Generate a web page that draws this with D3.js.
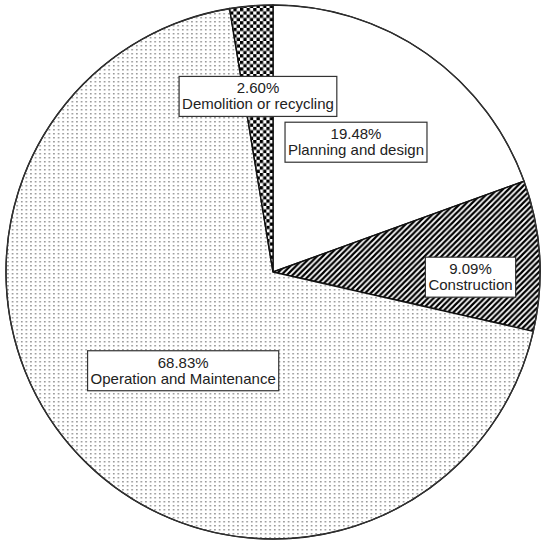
<!DOCTYPE html>
<html>
<head>
<meta charset="utf-8">
<script src="https://cdn.jsdelivr.net/npm/d3@7/dist/d3.min.js"></script>
<style>
  html, body { margin: 0; padding: 0; background: #fff; }
  svg { display: block; }
</style>
</head>
<body>
<script>
// ---- data ----
const categories = ["Planning and design", "Construction", "Operation and Maintenance", "Demolition or recycling"];
const values = [19.48, 9.09, 68.83, 2.60];
const percentLabels = ["19.48%", "9.09%", "68.83%", "2.60%"];
const fills = ["plain", "stripes", "dots", "checker"];

// ---- layout (label anchors: polar angle in degrees from 12 o'clock, radius fraction) ----
const labelAngles = [32.6, 91.5, 222.3, 355.1];
const labelRadii = [0.577, 0.74, 0.5, 0.66];

const W = 546, H = 550;
const cx = 273, cy = 272, R = 267;

const svg = d3.select("body").append("svg").attr("width", W).attr("height", H);
const defs = svg.append("defs");

// dots pattern
const pd = defs.append("pattern").attr("id", "dots").attr("patternUnits", "userSpaceOnUse")
  .attr("width", 4.6).attr("height", 4);
pd.append("rect").attr("width", 4.6).attr("height", 4).attr("fill", "#fff");
pd.append("rect").attr("x", 1).attr("y", 1).attr("width", 1.5).attr("height", 1.5).attr("fill", "#8e8e8e");

// stripes pattern ("/" diagonals)
const sp = 5.66;
const ps = defs.append("pattern").attr("id", "stripes").attr("patternUnits", "userSpaceOnUse")
  .attr("width", sp).attr("height", sp);
ps.append("rect").attr("width", sp).attr("height", sp).attr("fill", "#fff");
ps.append("path")
  .attr("d", `M0,${sp} L${sp},0 M${-sp/2},${sp/2} L${sp/2},${-sp/2} M${sp/2},${sp*1.5} L${sp*1.5},${sp/2}`)
  .attr("stroke", "#000").attr("stroke-width", 2.2);

// checker pattern
const pc = defs.append("pattern").attr("id", "checker").attr("patternUnits", "userSpaceOnUse")
  .attr("width", 6.6).attr("height", 6.6);
pc.append("rect").attr("width", 6.6).attr("height", 6.6).attr("fill", "#fff");
pc.append("rect").attr("width", 3.3).attr("height", 3.3).attr("fill", "#000");
pc.append("rect").attr("x", 3.3).attr("y", 3.3).attr("width", 3.3).attr("height", 3.3).attr("fill", "#000");

const fillFor = f => f === "plain" ? "#fff" : `url(#${f})`;

const data = categories.map((c, i) => ({ cat: c, value: values[i], pct: percentLabels[i], fill: fills[i], i }));

const pie = d3.pie().value(d => d.value).sort(null).startAngle(0).endAngle(2 * Math.PI);
const arc = d3.arc().innerRadius(0).outerRadius(R);

const g = svg.append("g").attr("transform", `translate(${cx},${cy})`);
const arcs = pie(data);

g.selectAll("path.slice").data(arcs).enter().append("path")
  .attr("class", "slice")
  .attr("d", arc)
  .attr("fill", d => fillFor(d.data.fill))
  .attr("stroke", "#111")
  .attr("stroke-width", 1.4)
  .attr("stroke-linejoin", "round");

// outer circle
g.append("circle").attr("r", R).attr("fill", "none").attr("stroke", "#333").attr("stroke-width", 1.2);

// labels
const fontFamily = "'Liberation Sans', Arial, sans-serif";
const lab = g.selectAll("g.lab").data(arcs).enter().append("g").attr("class", "lab")
  .attr("transform", d => {
    const a = labelAngles[d.data.i] * Math.PI / 180;
    const r = labelRadii[d.data.i] * R;
    return `translate(${r * Math.sin(a)},${-r * Math.cos(a)})`;
  });

lab.each(function(d) {
  const sel = d3.select(this);
  const rect = sel.append("rect");
  const t1 = sel.append("text").attr("text-anchor", "middle").attr("y", -3)
    .attr("font-family", fontFamily).attr("font-size", 15).attr("fill", "#222").text(d.data.pct);
  const t2 = sel.append("text").attr("text-anchor", "middle").attr("y", 13)
    .attr("font-family", fontFamily).attr("font-size", 15).attr("fill", "#222").text(d.data.cat);
  const w = Math.max(t1.node().getComputedTextLength(), t2.node().getComputedTextLength()) + 6;
  rect.attr("x", -w / 2).attr("y", -20).attr("width", w).attr("height", 40)
    .attr("fill", "#fff").attr("stroke", "#333").attr("stroke-width", 1.2);
});
</script>
</body>
</html>
